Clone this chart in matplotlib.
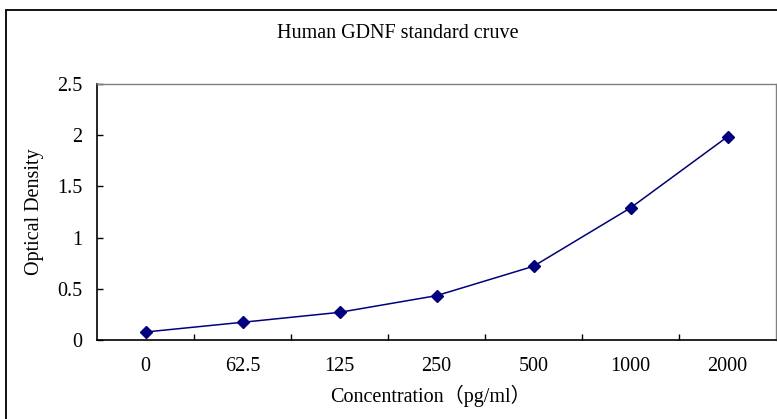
import matplotlib
matplotlib.use("Agg")
from matplotlib import pyplot as plt
from matplotlib.patches import Rectangle
from matplotlib.ticker import FormatStrFormatter

# standard curve readings
concentrations = ["0", "62.5", "125", "250", "500", "1000", "2000"]
optical_density = [0.078, 0.173, 0.27, 0.433, 0.72, 1.29, 1.985]
y_ticks = [0, 0.5, 1, 1.5, 2, 2.5]

fonts = ["Liberation Serif", "Noto Sans CJK SC"]
plt.rcParams["font.family"] = fonts
fs = 14.5

fig = plt.figure(figsize=(7.77, 4.19), dpi=100)
ax = fig.add_axes([97 / 777, 79 / 419, 679 / 777, 256 / 419])

x = range(len(concentrations))
ax.plot(x, optical_density, color="#000080", lw=1.1, marker="D", ms=6.3)

ax.set_xlim(-0.5, len(concentrations) - 0.5)
ax.set_ylim(0, 2.5)
ax.set_xticks([i + 0.5 for i in range(len(concentrations) - 1)])
ax.set_xticklabels([])
ax.set_xticks(list(x), minor=True)
ax.set_xticklabels(concentrations, minor=True, fontsize=fs)
ax.tick_params(axis="x", which="minor", length=0, pad=12)
ax.tick_params(axis="x", which="major", direction="in", length=4, width=1)
ax.set_yticks(y_ticks)
ax.yaxis.set_major_formatter(FormatStrFormatter("%g"))
ax.tick_params(axis="y", direction="in", length=4, width=1, labelsize=fs, pad=10.5)

ax.spines["left"].set_linewidth(1.2)
ax.spines["bottom"].set_linewidth(1.2)
ax.spines["top"].set_color("#808080")
ax.spines["right"].set_color("#808080")
ax.spines["top"].set_linewidth(1)
ax.spines["right"].set_linewidth(1)

fig.text(398 / 777, 1 - 34 / 419, "Human GDNF standard cruve", ha="center", va="center", fontsize=fs)
fig.text(430 / 777, 1 - 396 / 419, "Concentration（pg/ml）", ha="center", va="center", fontsize=fs)
fig.text(35 / 777, 1 - 212 / 419, "Optical Density", ha="center", va="center", rotation=90, fontsize=fs)

# outer chart frame, running off the right and bottom edges
fig.patches.append(Rectangle((6 / 777, -0.1), 1.2, 1 - 10 / 419 + 0.1, transform=fig.transFigure,
                             fill=False, edgecolor="black", lw=1.3))

fig.savefig("out.png", dpi=100)
